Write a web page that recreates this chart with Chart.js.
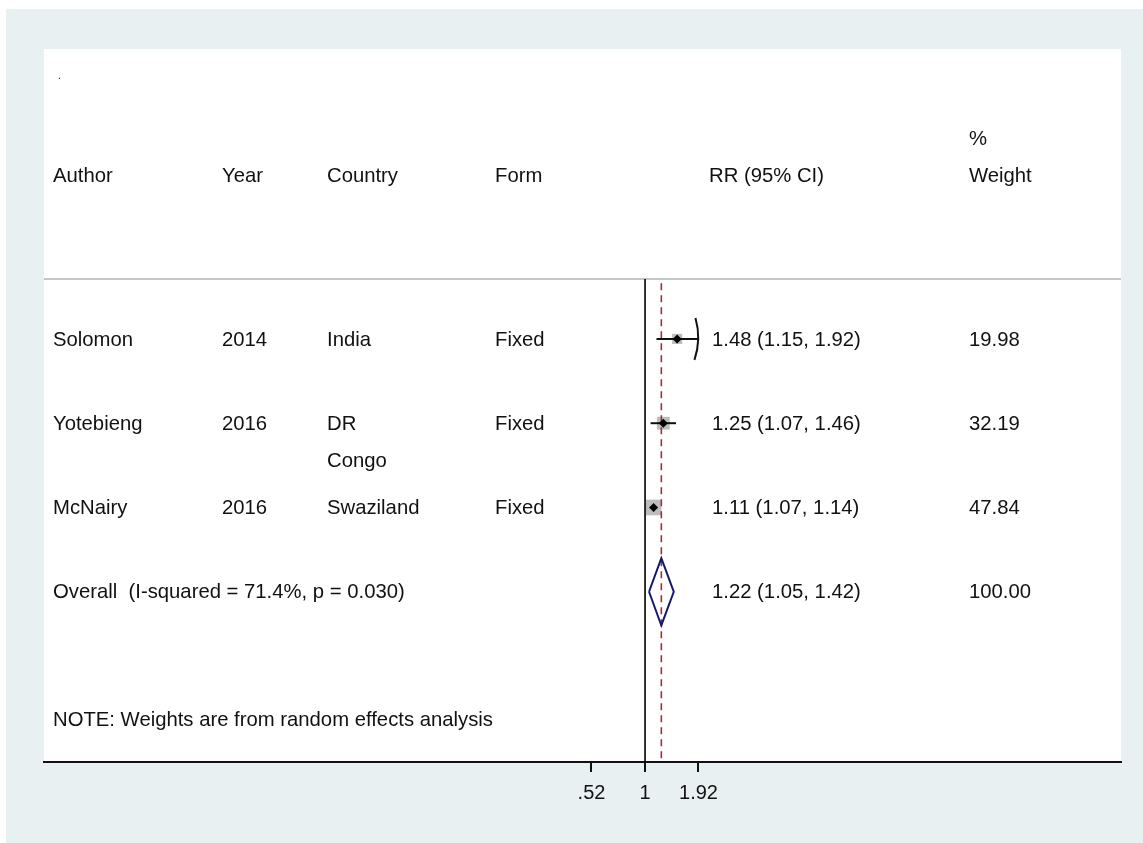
<!DOCTYPE html>
<html>
<head>
<meta charset="utf-8">
<title>Forest plot</title>
<script src="https://cdn.jsdelivr.net/npm/chart.js@4.4.1/dist/chart.umd.min.js"></script>
<style>
  html, body { margin: 0; padding: 0; background: #fff; }
  canvas { display: block; }
</style>
</head>
<body>
<canvas id="forest" width="1143" height="843"></canvas>
<script>
// --- Study data ---
const authors = ['Solomon', 'Yotebieng', 'McNairy'];
const years = ['2014', '2016', '2016'];
const countries = [['India'], ['DR', 'Congo'], ['Swaziland']];
const forms = ['Fixed', 'Fixed', 'Fixed'];
const rr = [1.48, 1.25, 1.11];
const lower = [1.15, 1.07, 1.07];
const upper = [1.92, 1.46, 1.14];
const weights = [19.98, 32.19, 47.84];

// pooled estimate
const overallRR = [1.22, 1.05, 1.42];   // estimate, lower, upper
const overallWeight = 100;
const overallLabel = 'Overall  (I-squared = 71.4%, p = 0.030)';
const noteText = 'NOTE: Weights are from random effects analysis';

// axis
const tickValues = [0.52, 1, 1.92];
const tickLabels = ['.52', '1', '1.92'];

// --- Layout (row units on the y scale, pixels for columns) ---
const Y_MIN = -3.44, Y_MAX = 5.02;
const Y_RULE = -0.712, Y_HEAD = -1.945, Y_NOTE = 4.52, Y_DOT = -3.1;
const LINE_GAP = 37;
const FONT = '20.3px "Liberation Sans", Arial, Helvetica, sans-serif';
const TEXT = '#111';
const cols = { author: 53, year: 222, country: 327, form: 495, rr: 712, rrHead: 709, weight: 969 };

const fmt = v => v.toFixed(2);
const overallRow = authors.length;

// --- Datasets ---
const datasets = [];

// confidence intervals
authors.forEach((a, i) => {
  datasets.push({
    data: [{ x: lower[i], y: i }, { x: upper[i], y: i }],
    showLine: true, borderColor: '#111', borderWidth: 2,
    pointRadius: 0, order: 2
  });
});

// weight boxes (area proportional to weight)
datasets.push({
  data: rr.map((v, i) => ({ x: v, y: i })),
  pointStyle: 'rect',
  pointRadius: weights.map(w => 1.6 * Math.sqrt(w)),
  backgroundColor: '#bdbdbd', borderWidth: 0, order: 4
});

// point estimates
datasets.push({
  data: rr.map((v, i) => ({ x: v, y: i })),
  pointStyle: 'rectRot', pointRadius: 4.5,
  backgroundColor: '#000', borderWidth: 0, order: 1
});

// pooled diamond
const h = 0.4;
datasets.push({
  data: [
    { x: overallRR[1], y: overallRow },
    { x: overallRR[0], y: overallRow - h },
    { x: overallRR[2], y: overallRow },
    { x: overallRR[0], y: overallRow + h },
    { x: overallRR[1], y: overallRow }
  ],
  showLine: true, borderColor: '#14186b', borderWidth: 2,
  pointRadius: 0, tension: 0, order: 1
});

// line of no effect
datasets.push({
  data: [{ x: 1, y: Y_RULE }, { x: 1, y: Y_MAX }],
  showLine: true, borderColor: '#000', borderWidth: 1.6,
  pointRadius: 0, order: 3
});

// pooled estimate reference
datasets.push({
  data: [{ x: overallRR[0], y: Y_RULE + 0.05 }, { x: overallRR[0], y: Y_MAX }],
  showLine: true, borderColor: '#9e2e3a', borderWidth: 1.6,
  borderDash: [7, 5], pointRadius: 0, order: 3
});

// --- Painting: backgrounds, header rule, text columns, clipped-CI caps ---
const forestPaint = {
  id: 'forestPaint',
  beforeDraw(chart) {
    const { ctx, chartArea: ca } = chart;
    ctx.save();
    ctx.fillStyle = '#fff';
    ctx.fillRect(0, 0, chart.width, chart.height);
    ctx.fillStyle = '#e9f0f2';
    ctx.fillRect(6, 9, chart.width - 6, chart.height - 9);
    ctx.fillStyle = '#fff';
    ctx.fillRect(ca.left, ca.top, ca.right - ca.left, ca.bottom - ca.top);
    ctx.restore();
  },
  beforeDatasetsDraw(chart) {
    const { ctx, chartArea: ca, scales: { y } } = chart;
    const yy = y.getPixelForValue(Y_RULE);
    ctx.save();
    ctx.strokeStyle = '#c6c6c6';
    ctx.lineWidth = 2;
    ctx.beginPath();
    ctx.moveTo(ca.left, yy);
    ctx.lineTo(ca.right, yy);
    ctx.stroke();
    ctx.restore();
  },
  afterDatasetsDraw(chart) {
    const { ctx, scales: { x, y } } = chart;
    ctx.save();

    // arrow cap where a CI reaches the end of the labelled range
    const xEnd = tickValues[tickValues.length - 1];
    ctx.strokeStyle = '#111';
    ctx.lineWidth = 2;
    upper.forEach((u, i) => {
      if (u < xEnd) return;
      const px = x.getPixelForValue(u), py = y.getPixelForValue(i);
      ctx.beginPath();
      ctx.moveTo(px - 3, py - 21);
      ctx.quadraticCurveTo(px + 3, py, px - 4, py + 21);
      ctx.stroke();
    });

    ctx.font = FONT;
    ctx.fillStyle = TEXT;
    ctx.textAlign = 'left';
    ctx.textBaseline = 'middle';
    const put = (s, px, row, line = 0) => ctx.fillText(s, px, y.getPixelForValue(row) + 1 + line * LINE_GAP);

    // header
    put('Author', cols.author, Y_HEAD);
    put('Year', cols.year, Y_HEAD);
    put('Country', cols.country, Y_HEAD);
    put('Form', cols.form, Y_HEAD);
    put('RR (95% CI)', cols.rrHead, Y_HEAD);
    put('%', cols.weight, Y_HEAD, -1);
    put('Weight', cols.weight, Y_HEAD);

    // studies
    authors.forEach((a, i) => {
      put(a, cols.author, i);
      put(years[i], cols.year, i);
      countries[i].forEach((c, k) => put(c, cols.country, i, k));
      put(forms[i], cols.form, i);
      put(`${fmt(rr[i])} (${fmt(lower[i])}, ${fmt(upper[i])})`, cols.rr, i);
      put(fmt(weights[i]), cols.weight, i);
    });

    // pooled
    put(overallLabel, cols.author, overallRow);
    put(`${fmt(overallRR[0])} (${fmt(overallRR[1])}, ${fmt(overallRR[2])})`, cols.rr, overallRow);
    put(fmt(overallWeight), cols.weight, overallRow);

    put(noteText, cols.author, Y_NOTE);

    ctx.textBaseline = 'alphabetic';
    ctx.font = '10px "Liberation Sans", Arial, sans-serif';
    put('.', 58, Y_DOT);
    ctx.restore();
  }
};

new Chart(document.getElementById('forest'), {
  type: 'scatter',
  data: { datasets },
  options: {
    responsive: false,
    devicePixelRatio: 1,
    animation: false,
    layout: { padding: { left: 44, right: 22, top: 49, bottom: 0 } },
    plugins: { legend: { display: false }, tooltip: { enabled: false } },
    scales: {
      x: {
        type: 'logarithmic',
        min: 0.00065,
        max: 334,
        afterBuildTicks: s => { s.ticks = tickValues.map(v => ({ value: v })); },
        afterFit: s => { s.height = 81; },
        ticks: {
          autoSkip: false, maxRotation: 0, padding: 9,
          color: TEXT,
          font: { family: '"Liberation Sans", Arial, sans-serif', size: 20 },
          callback: (v, i) => tickLabels[i]
        },
        grid: { drawOnChartArea: false, drawTicks: true, tickLength: 10, color: '#111', lineWidth: 2 },
        border: { display: true, color: '#111', width: 2 }
      },
      y: {
        type: 'linear', reverse: true, min: Y_MIN, max: Y_MAX, display: false
      }
    }
  },
  plugins: [forestPaint]
});
</script>
</body>
</html>
